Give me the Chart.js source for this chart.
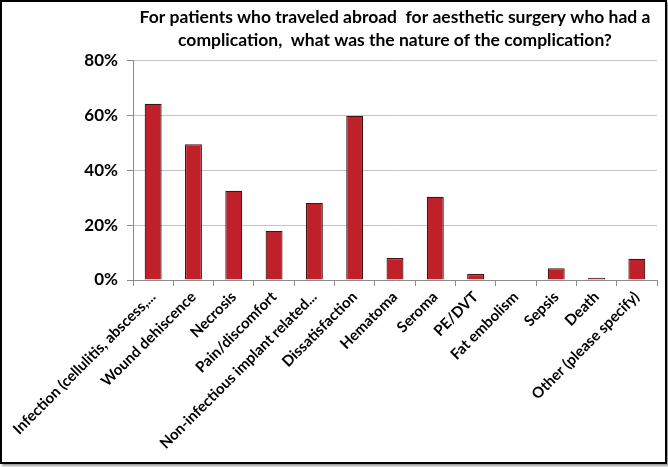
<!DOCTYPE html>
<html>
<head>
<meta charset="utf-8">
<script src="https://cdn.jsdelivr.net/npm/chart.js@4/dist/chart.umd.min.js"></script>
<style>
  body { margin: 0; background: #fff; }
  #frame {
    position: absolute; left: 0; top: 0;
    width: 663px; height: 460px;
    border: 2px solid #000;
    box-shadow: 2px 2px 2px #999;
    background: #fff;
  }
</style>
</head>
<body>
<div id="frame"><canvas id="bar-chart" width="663" height="460"></canvas></div>
<script>
// Complications data (percent of respondents)
var categories = ["Infection (cellulitis, abscess,...", "Wound dehiscence", "Necrosis", "Pain/discomfort",
    "Non-infectious implant related...", "Dissatisfaction", "Hematoma", "Seroma", "PE/DVT",
    "Fat embolism", "Sepsis", "Death", "Other (please specify)"];
var percents = [64.2, 49.5, 32.5, 17.9, 28.1, 59.8, 8.0, 30.3, 2.2, 0, 4.3, 0.8, 7.7];
var yTicks = [0, 20, 40, 60, 80];

var fontFamily = "Lato, 'Open Sans', sans-serif";

new Chart(document.getElementById("bar-chart"), {
    type: 'bar',
    data: {
        labels: categories,
        datasets: [
            {
                label: "Complication",
                backgroundColor: "#c0202a",
                borderColor: "#3a1616",
                borderWidth: 1.2,
                barPercentage: 0.42,
                categoryPercentage: 1,
                data: percents
            }
        ]
    },
    options: {
        responsive: false,
        animation: false,
        layout: { padding: { left: 0, right: 8, top: 0, bottom: 4 } },
        plugins: {
            legend: { display: false },
            tooltip: { enabled: false },
            title: {
                display: true,
                fullSize: false,
                text: ['For patients who traveled abroad  for aesthetic surgery who had a',
                       'complication,  what was the nature of the complication?'],
                color: '#000',
                font: { family: fontFamily, size: 17.5, weight: 'bold', lineHeight: 1.3 },
                padding: { top: 4, bottom: 9 }
            }
        },
        scales: {
            x: {
                afterFit: function (axis) { axis.height = 178; },
                grid: { display: true, drawOnChartArea: false, offset: true, tickLength: 6, color: '#8c8c8c' },
                border: { color: '#8c8c8c' },
                ticks: {
                    autoSkip: false,
                    maxRotation: 45,
                    minRotation: 45,
                    color: '#000',
                    padding: 2,
                    font: { family: fontFamily, size: 15, weight: 'bold' }
                }
            },
            y: {
                min: 0,
                max: 80,
                afterFit: function (axis) { axis.width = 131; },
                afterBuildTicks: function (axis) {
                    axis.ticks = yTicks.map(function (v) { return { value: v }; });
                },
                grid: { color: '#c4c4c4', tickLength: 6, tickColor: '#8c8c8c' },
                border: { color: '#8c8c8c' },
                ticks: {
                    color: '#000',
                    padding: 9,
                    font: { family: fontFamily, size: 17, weight: 'bold' },
                    callback: function (v) { return v + '%'; }
                }
            }
        }
    }
});
</script>
</body>
</html>
